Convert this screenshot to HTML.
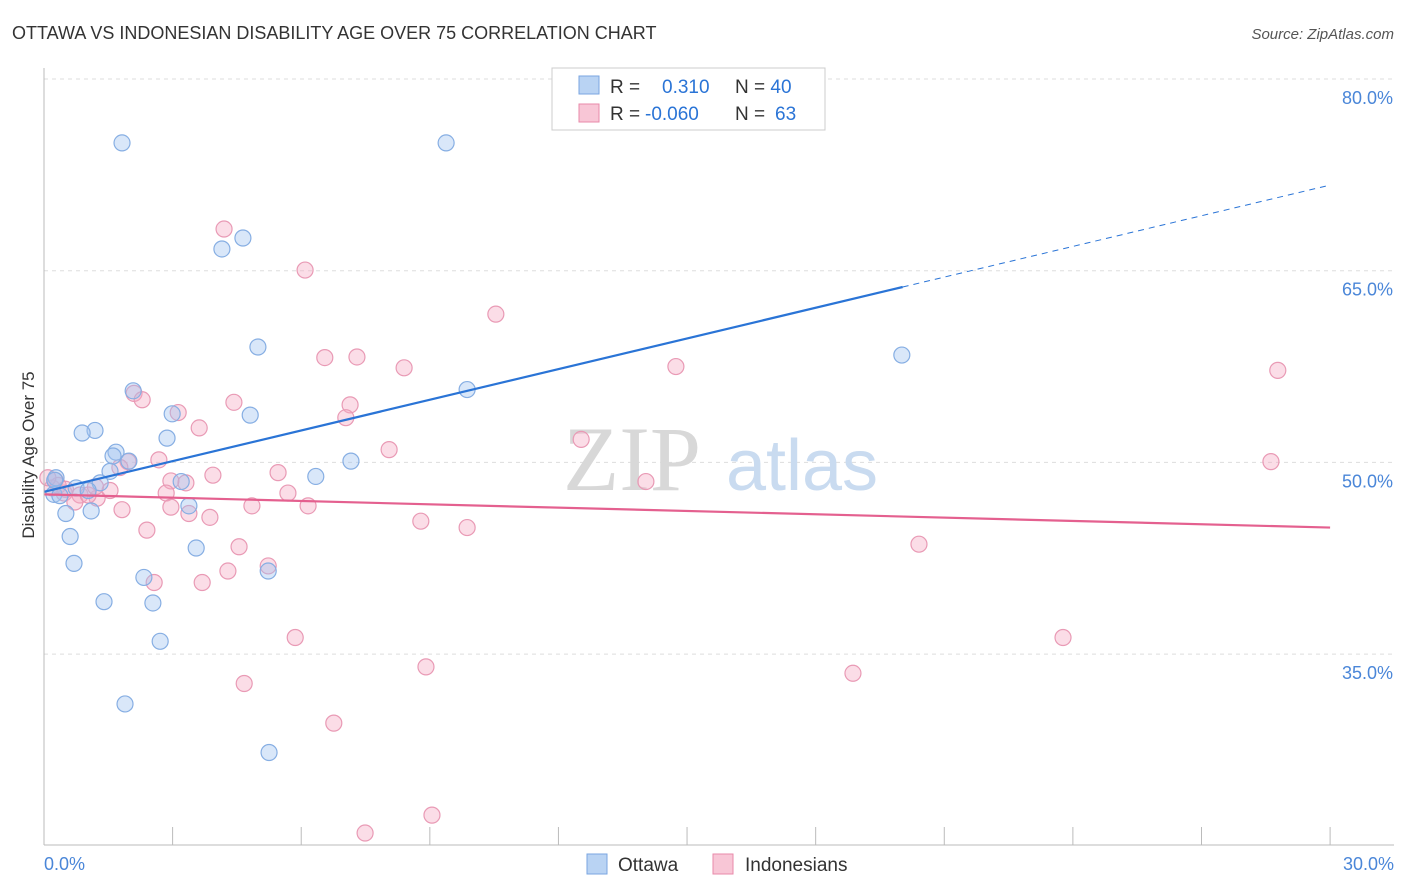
<!DOCTYPE html>
<html><head><meta charset="utf-8"><style>
body{margin:0;background:#fff;font-family:"Liberation Sans",sans-serif}
svg{display:block}
</style></head><body>
<svg id="c" width="1406" height="892" xmlns="http://www.w3.org/2000/svg">
<text x="12" y="39" font-size="18" fill="#333">OTTAWA VS INDONESIAN DISABILITY AGE OVER 75 CORRELATION CHART</text>
<text x="1394" y="39" font-size="15" fill="#555" font-style="italic" text-anchor="end">Source: ZipAtlas.com</text>
<text x="34" y="455" font-size="17" fill="#333" text-anchor="middle" transform="rotate(-90 34 455)">Disability Age Over 75</text>
<g id="grid"></g>
<g><text x="632" y="490" font-size="92" fill="#d8d8d8" font-family="Liberation Serif,serif" text-anchor="middle">ZIP</text><text x="802" y="490" font-size="72" fill="#c9dbf0" text-anchor="middle">atlas</text></g>
<g id="pts"></g>
<g id="lines"></g>
<g id="ticks"></g>
<g>
<rect x="552" y="68" width="273" height="62" fill="#fff" stroke="#ccc"/>
<rect x="579" y="76" width="20" height="18" fill="#b9d3f3" stroke="#7aa6e0"/>
<rect x="579" y="104" width="20" height="18" fill="#f8c6d6" stroke="#e88aaa"/>
<text x="610" y="93" font-size="19" fill="#333">R = <tspan fill="#2a74d6" x="662">0.310</tspan><tspan x="735" fill="#333">N = </tspan><tspan fill="#2a74d6">40</tspan></text>
<text x="610" y="120" font-size="19" fill="#333">R = <tspan fill="#2a74d6" x="645">-0.060</tspan><tspan x="735" fill="#333">N = </tspan><tspan fill="#2a74d6" x="775">63</tspan></text>
</g>
<g>
<rect x="587" y="854" width="20" height="20" fill="#b9d3f3" stroke="#7aa6e0"/>
<text x="618" y="871" font-size="19" fill="#333">Ottawa</text>
<rect x="713" y="854" width="20" height="20" fill="#f8c6d6" stroke="#e88aaa"/>
<text x="745" y="871" font-size="19" fill="#333">Indonesians</text>
</g>
</svg>
<script>
const yTicks=[80,65,50,35];
const xLabels=["0.0%","30.0%"];
const ottawaX=[1.82,9.38,4.15,4.64,4.99,2.08,9.87,20.01,2.99,4.81,1.19,0.89,2.87,1.68,1.61,1.98,7.16,1.54,6.34,0.28,3.2,1.31,0.75,1.03,0.23,0.37,1.10,0.51,3.38,0.61,3.55,0.70,2.33,5.23,1.40,2.54,2.71,1.89,5.25,0.25];
const ottawaY=[75.0,75.0,66.7,67.56,59.03,55.6,55.7,58.4,53.8,53.7,52.5,52.3,51.9,50.8,50.5,50.1,50.1,49.3,48.9,48.8,48.5,48.4,48.0,47.8,47.5,47.4,46.2,46.0,46.6,44.2,43.3,42.1,41.0,41.5,39.1,39.0,36.0,31.1,27.3,48.6];
const indoX=[4.20,6.09,10.54,6.55,7.30,8.40,14.74,28.78,2.10,2.29,4.43,7.14,3.13,7.04,3.62,12.53,8.05,2.68,28.62,1.96,5.46,3.94,1.77,0.26,14.04,3.31,2.96,1.54,2.85,5.69,0.19,0.47,0.84,1.24,0.72,6.16,4.85,1.82,3.38,3.87,8.79,9.87,2.40,4.55,20.41,4.29,5.23,2.57,3.69,5.86,23.77,8.91,18.87,4.67,6.76,7.49,9.05,1.03,0.33,0.09,2.96,0.5,1.2];
const indoY=[68.26,65.05,61.6,58.2,58.25,57.4,57.5,57.2,55.4,54.9,54.7,54.5,53.9,53.5,52.7,51.8,51.0,50.2,50.06,50.06,49.2,49.0,49.6,48.6,48.5,48.4,48.55,47.8,47.6,47.6,48.0,47.6,47.45,47.2,46.9,46.6,46.6,46.3,46.0,45.7,45.4,44.9,44.7,43.4,43.6,41.5,41.9,40.6,40.6,36.3,36.3,34.0,33.5,32.7,29.6,21.0,22.4,47.45,48.2,48.8,46.5,47.9,48.1];
const ottawaFit=[47.7,71.7];
const indoFit=[47.5,44.9];
const NS="http://www.w3.org/2000/svg";
const X=v=>44+v*42.87, Y=v=>79+(80-v)*12.78;
function mk(p,t,a){const e=document.createElementNS(NS,t);for(const k in a)e.setAttribute(k,a[k]);document.getElementById(p).appendChild(e);return e;}
yTicks.forEach(t=>{
 const l=mk('grid','line',{x1:44,x2:1394,y1:Y(t),y2:Y(t),stroke:'#ddd','stroke-dasharray':'4,4'});
 
 
 const tx=mk('grid','text',{x:1393,y:Y(t)+25,'font-size':18,fill:'#4a86d8','text-anchor':'end'});
 tx.textContent=t.toFixed(1)+'%';
 
 
});
const ax=mk('ticks','line',{x1:44,x2:44,y1:68,y2:845,stroke:'#bbb'});


const bx=mk('ticks','line',{x1:44,x2:1394,y1:845,y2:845,stroke:'#bbb'});


for(let i=0;i<=10;i++){const t=mk('ticks','line',{x1:X(i*3),x2:X(i*3),y1:827,y2:845,stroke:'#bbb'});
 
 }
[[0,'start'],[30,'end']].forEach((d,i)=>{const t=mk('ticks','text',{x:d[0]?1394:44,y:870,'font-size':18,fill:'#4a86d8','text-anchor':d[1]});t.textContent=xLabels[i];
 
 });
indoX.forEach((x,i)=>{const c=mk('pts','circle',{cx:X(x),cy:Y(indoY[i]),r:8,fill:'rgba(245,170,196,0.4)',stroke:'#e99ab5','stroke-width':1.2});
 
 });
ottawaX.forEach((x,i)=>{const c=mk('pts','circle',{cx:X(x),cy:Y(ottawaY[i]),r:8,fill:'rgba(160,195,240,0.4)',stroke:'#86aee3','stroke-width':1.2});
 
 });
const oy=x=>ottawaFit[0]+(ottawaFit[1]-ottawaFit[0])*x/30;
const l1=mk('lines','line',{x1:X(0),y1:Y(oy(0)),x2:X(20.03),y2:Y(oy(20.03)),stroke:'#2a74d6','stroke-width':2.2});


const l2=mk('lines','line',{x1:X(20.03),y1:Y(oy(20.03)),x2:X(30),y2:Y(oy(30)),stroke:'#2a74d6','stroke-width':1,'stroke-dasharray':'6,5'});


const l3=mk('lines','line',{x1:X(0),y1:Y(indoFit[0]),x2:X(30),y2:Y(indoFit[1]),stroke:'#e4608f','stroke-width':2.2});


</script>
</body></html>
